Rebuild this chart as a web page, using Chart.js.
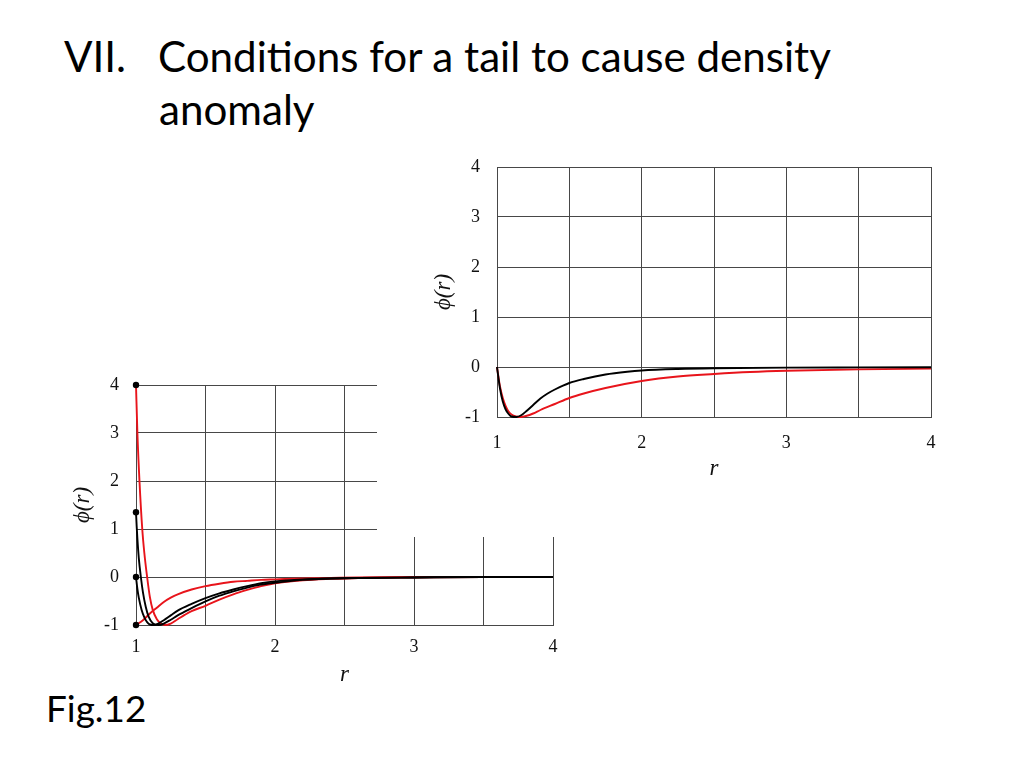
<!DOCTYPE html>
<html>
<head>
<meta charset="utf-8">
<title>Conditions for a tail to cause density anomaly</title>
<script src="https://cdn.jsdelivr.net/npm/chart.js@4.4.1/dist/chart.umd.min.js"></script>
<style>
  html, body { margin: 0; padding: 0; background: #fff; }
  body { width: 1024px; height: 768px; position: relative; overflow: hidden; }
  .txt { position: absolute; white-space: nowrap; color: #000; margin: 0; }
  canvas { position: absolute; }
  #fig12 { left: 60px; top: 375px; }
  #fig13 { left: 377px; top: 150px; background: #fff; }
</style>
</head>
<body>
<div class="txt" id="tNum"></div>
<div class="txt" id="tLine1"></div>
<div class="txt" id="tLine2"></div>
<div class="txt" id="cap12"></div>
<div class="txt" id="cap13"></div>
<canvas id="fig12" width="510" height="320"></canvas>
<canvas id="fig13" width="580" height="387"></canvas>
<script>
// Fig.12: four potentials phi(r)
const redHardR = [1.00, 1.01, 1.025, 1.045, 1.06, 1.08, 1.10, 1.12, 1.15, 1.18, 1.21, 1.25, 1.30, 1.35, 1.40, 1.50, 1.60, 1.70, 1.80, 1.90, 2.00, 2.20, 2.40, 2.60, 3.00, 3.50, 4.00];
const redHardPhi = [4.00, 3.00, 2.00, 1.00, 0.50, 0.00, -0.42, -0.68, -0.88, -0.97, -1.00, -0.97, -0.88, -0.79, -0.71, -0.60, -0.47, -0.36, -0.27, -0.19, -0.13, -0.07, -0.04, -0.02, -0.01, 0.00, 0.00];

const blackMidR = [1.00, 1.005, 1.01, 1.02, 1.035, 1.05, 1.07, 1.09, 1.12, 1.16, 1.20, 1.25, 1.30, 1.40, 1.50, 1.60, 1.70, 1.80, 1.90, 2.00, 2.20, 2.40, 2.60, 3.00, 3.50, 4.00];
const blackMidPhi = [1.35, 1.05, 0.80, 0.40, 0.00, -0.32, -0.62, -0.82, -0.96, -1.00, -0.97, -0.89, -0.80, -0.65, -0.51, -0.39, -0.30, -0.22, -0.16, -0.12, -0.06, -0.03, -0.02, -0.01, 0.00, 0.00];

const blackSoftR = [1.00, 1.01, 1.02, 1.04, 1.06, 1.08, 1.10, 1.13, 1.16, 1.20, 1.25, 1.30, 1.40, 1.50, 1.60, 1.70, 1.80, 1.90, 2.00, 2.20, 2.40, 2.60, 3.00, 3.50, 4.00];
const blackSoftPhi = [0.00, -0.25, -0.43, -0.68, -0.84, -0.94, -0.99, -1.00, -0.97, -0.90, -0.80, -0.70, -0.56, -0.44, -0.34, -0.26, -0.19, -0.13, -0.09, -0.05, -0.03, -0.02, -0.01, 0.00, 0.00];

const redWellR = [1.00, 1.05, 1.10, 1.15, 1.20, 1.25, 1.30, 1.40, 1.50, 1.60, 1.70, 1.80, 1.90, 2.00, 2.20, 2.40, 2.60, 3.00, 3.50, 4.00];
const redWellPhi = [-1.00, -0.90, -0.76, -0.64, -0.52, -0.43, -0.36, -0.26, -0.19, -0.14, -0.10, -0.08, -0.06, -0.05, -0.03, -0.02, -0.01, 0.00, 0.00, 0.00];

// Fig.13: short tail (black) and long tail (red)
const shortTailR = [1.00, 1.01, 1.02, 1.04, 1.06, 1.08, 1.10, 1.135, 1.17, 1.20, 1.25, 1.30, 1.35, 1.40, 1.50, 1.60, 1.75, 1.90, 2.00, 2.25, 2.50, 3.00, 3.50, 4.00];
const shortTailPhi = [0.00, -0.22, -0.42, -0.69, -0.85, -0.94, -0.99, -1.00, -0.96, -0.89, -0.76, -0.63, -0.53, -0.45, -0.32, -0.24, -0.15, -0.095, -0.07, -0.04, -0.025, -0.012, -0.008, -0.006];

const longTailR = [1.00, 1.01, 1.02, 1.04, 1.06, 1.08, 1.10, 1.13, 1.165, 1.20, 1.25, 1.30, 1.40, 1.50, 1.60, 1.75, 2.00, 2.25, 2.50, 2.75, 3.00, 3.50, 4.00];
const longTailPhi = [0.00, -0.20, -0.38, -0.62, -0.78, -0.89, -0.95, -0.99, -1.00, -0.98, -0.93, -0.86, -0.74, -0.62, -0.53, -0.42, -0.28, -0.19, -0.14, -0.10, -0.075, -0.048, -0.033];

const rTicks = [1, 2, 3, 4];
const phiTicks = [-1, 0, 1, 2, 3, 4];

const RED = "#e8141b";
const GRID = "#474747";
const SERIF = "'Liberation Serif', 'Times New Roman', serif";

function toPoints(rs, phis) {
  return rs.map((r, i) => ({ x: r, y: phis[i] }));
}

function curve(rs, phis, color, dots) {
  return {
    data: toPoints(rs, phis),
    showLine: true,
    borderColor: color,
    borderWidth: 1.9,
    cubicInterpolationMode: "monotone",
    pointRadius: dots ? (c) => (c.dataIndex === 0 ? 3.2 : 0) : 0,
    pointBackgroundColor: "#000",
    pointBorderWidth: 0,
    clip: false,
  };
}

function buildOptions(s) {
  return {
    responsive: false,
    animation: false,
    events: [],
    layout: { padding: s.padding },
    plugins: { legend: { display: false }, tooltip: { enabled: false } },
    scales: {
      x: {
        type: "linear",
        min: 1,
        max: 4,
        afterFit: (scale) => {
          scale.height = s.xHeight;
          scale.paddingLeft = 0;
          scale.paddingRight = 0;
        },
        ticks: {
          stepSize: 0.5,
          padding: s.xTickPad,
          color: "#111",
          font: { family: SERIF, size: s.tickSize },
          callback: (v) => (rTicks.includes(v) ? String(v) : ""),
        },
        grid: { color: GRID, lineWidth: 1, drawTicks: false },
        border: { display: true, color: GRID, width: 1 },
        title: {
          display: true,
          text: "r",
          color: "#111",
          padding: { top: 0, bottom: s.xTitlePad },
          font: { family: SERIF, size: s.titleSize, style: "italic" },
        },
      },
      y: {
        type: "linear",
        min: -1,
        max: 4,
        afterFit: (scale) => {
          scale.width = s.yWidth;
          scale.paddingTop = 0;
          scale.paddingBottom = 0;
        },
        ticks: {
          stepSize: 1,
          padding: s.yTickPad,
          color: "#111",
          font: { family: SERIF, size: s.tickSize },
          callback: (v) => (phiTicks.includes(v) ? String(v) : ""),
        },
        grid: { color: GRID, lineWidth: 1, drawTicks: false },
        border: { display: true, color: GRID, width: 1 },
        title: {
          display: true,
          text: "ϕ(r)",
          color: "#111",
          padding: { top: s.yTitlePad, bottom: 0 },
          font: { family: SERIF, size: s.titleSize, style: "italic" },
        },
      },
    },
  };
}

new Chart(document.getElementById("fig12"), {
  type: "scatter",
  data: {
    datasets: [
      curve(blackSoftR, blackSoftPhi, "#000", true),
      curve(blackMidR, blackMidPhi, "#000", true),
      curve(redWellR, redWellPhi, RED, true),
      curve(redHardR, redHardPhi, RED, true),
    ],
  },
  options: buildOptions({
    padding: { left: 0, right: 17, top: 10, bottom: 0 },
    xHeight: 70, yWidth: 76,
    xTickPad: 11, yTickPad: 17, xTitlePad: 6, yTitlePad: 9,
    tickSize: 18, titleSize: 23,
  }),
});

new Chart(document.getElementById("fig13"), {
  type: "scatter",
  data: {
    datasets: [
      curve(shortTailR, shortTailPhi, "#000", false),
      curve(longTailR, longTailPhi, RED, false),
    ],
  },
  options: buildOptions({
    padding: { left: 40, right: 26, top: 17, bottom: 50 },
    xHeight: 70, yWidth: 80,
    xTickPad: 15, yTickPad: 17, xTitlePad: 4, yTitlePad: 13,
    tickSize: 18, titleSize: 23,
  }),
});

// slide texts: size fitted to the ink width, placed on the baseline
const SANS = "Lato, 'Open Sans', sans-serif";
const measurer = document.createElement("canvas").getContext("2d");

function fitSize(text, width) {
  measurer.font = `100px ${SANS}`;
  const m = measurer.measureText(text);
  return (100 * width) / (m.actualBoundingBoxLeft + m.actualBoundingBoxRight);
}

function place(id, text, size, left, baseline) {
  measurer.font = `${size}px ${SANS}`;
  const m = measurer.measureText(text);
  const a = m.fontBoundingBoxAscent;
  const d = m.fontBoundingBoxDescent;
  const el = document.getElementById(id);
  el.textContent = text;
  el.style.fontFamily = SANS;
  el.style.fontSize = size + "px";
  el.style.lineHeight = size + "px";
  el.style.left = left + m.actualBoundingBoxLeft + "px";
  el.style.top = baseline - ((size - (a + d)) / 2 + a) + "px";
}

const titleSize = fitSize("Conditions for a tail to cause density", 672);
place("tNum", "VII.", titleSize, 64, 73);
place("tLine1", "Conditions for a tail to cause density", titleSize, 160, 73);
place("tLine2", "anomaly", titleSize, 160, 126);

const capSize = fitSize("Fig.13.", 104);
place("cap13", "Fig.13.", capSize, 783, 516);
place("cap12", "Fig.12", capSize, 49, 722);
</script>
</body>
</html>
